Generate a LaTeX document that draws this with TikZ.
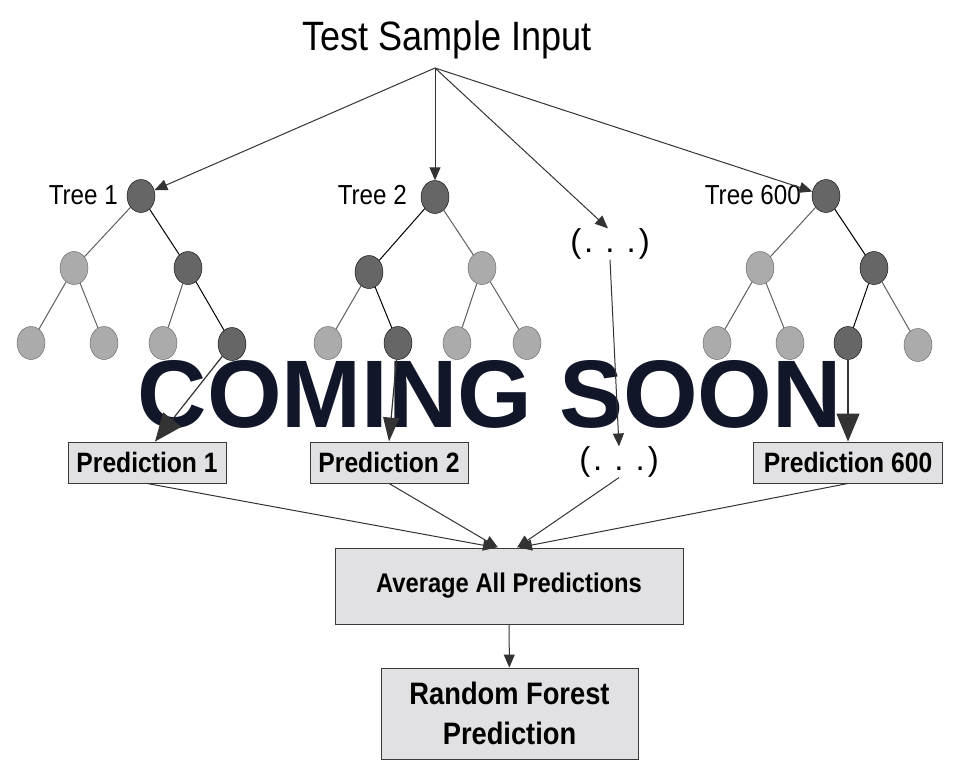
\documentclass[tikz,border=0pt]{standalone}
\usepackage{fontspec}
\setmainfont{Liberation Sans}
\newfontfamily\condfont[FakeStretch=0.88]{Liberation Sans}
\usetikzlibrary{shapes.geometric,arrows.meta}
\definecolor{darknode}{HTML}{666666}
\definecolor{lightnode}{HTML}{ABABAB}
\definecolor{lightedge}{HTML}{5E5E5E}
\definecolor{boxfill}{HTML}{E1E1E4}
\definecolor{boxedge}{HTML}{3A3A3A}
\definecolor{tipgray}{HTML}{333333}
\definecolor{wmark}{HTML}{121629}
\newcommand{\dotrow}{(\hspace{3pt}.\hspace{12pt}.\hspace{12pt}.\hspace{3pt})}
\begin{document}
\begin{tikzpicture}[x=1pt,y=-1pt,
  dark/.style={ellipse,draw=black,fill=darknode,minimum width=28pt,minimum height=33pt,inner sep=0pt},
  light/.style={ellipse,draw=lightedge,fill=lightnode,minimum width=28pt,minimum height=33pt,inner sep=0pt},
  dedge/.style={black,line width=1pt},
  ledge/.style={lightedge,line width=1pt},
  box/.style={draw=boxedge,fill=boxfill,line width=0.9pt,inner sep=0pt,align=center,
    font=\condfont\bfseries\fontsize{28}{40}\selectfont},
  lbl/.style={font=\condfont\fontsize{27.5}{30}\selectfont,inner sep=0pt},
  dots/.style={font=\fontsize{33}{35}\selectfont,inner sep=0pt},
  arr/.style={tipgray,line width=1pt,-{Triangle[length=13pt,width=11pt]}},
  bigarr/.style={tipgray,line width=1.2pt,-{Triangle[length=28pt,width=23pt]}}]
\useasboundingbox (0,0) rectangle (960,780);
%%% input and the three trees
\node[font=\condfont\fontsize{41}{44}\selectfont] (input) at (447,40) {Test Sample Input};
\coordinate (src) at (435,68);
% tree 1
\node[dark] (t1) at (141,196) {};
\node[light] (t1a) at (74,268) {};
\node[dark] (t1b) at (188,268) {};
\node[light] (t1aa) at (31,343) {};
\node[light] (t1ab) at (104,343) {};
\node[light] (t1ba) at (163,343) {};
\node[dark] (t1bb) at (232,344) {};
\node[lbl,anchor=east] at (118,195) {Tree 1};
\draw[ledge] (t1) -- (t1a);
\draw[dedge] (t1) -- (t1b);
\draw[ledge] (t1a) -- (t1aa);
\draw[ledge] (t1a) -- (t1ab);
\draw[ledge] (t1b) -- (t1ba);
\draw[dedge] (t1b) -- (t1bb);
% tree 2
\node[dark] (t2) at (435,197) {};
\node[dark] (t2a) at (369,272) {};
\node[light] (t2b) at (482,268) {};
\node[light] (t2aa) at (328,343) {};
\node[dark] (t2ab) at (398,343) {};
\node[light] (t2ba) at (457,343) {};
\node[light] (t2bb) at (527,343) {};
\node[lbl,anchor=east] at (407,195) {Tree 2};
\draw[dedge] (t2) -- (t2a);
\draw[ledge] (t2) -- (t2b);
\draw[ledge] (t2a) -- (t2aa);
\draw[dedge] (t2a) -- (t2ab);
\draw[ledge] (t2b) -- (t2ba);
\draw[ledge] (t2b) -- (t2bb);
% tree 600
\node[dark] (t3) at (826,196) {};
\node[light] (t3a) at (760,268) {};
\node[dark] (t3b) at (874,268) {};
\node[light] (t3aa) at (717,343) {};
\node[light] (t3ab) at (790,343) {};
\node[dark] (t3ba) at (848,343) {};
\node[light] (t3bb) at (918,345) {};
\node[lbl,anchor=east] at (801,195) {Tree 600};
\draw[ledge] (t3) -- (t3a);
\draw[dedge] (t3) -- (t3b);
\draw[ledge] (t3a) -- (t3aa);
\draw[ledge] (t3a) -- (t3ab);
\draw[dedge] (t3b) -- (t3ba);
\draw[ledge] (t3b) -- (t3bb);
% the dots
\node[dots] (dots1) at (610,244) {\dotrow};
\node[dots] (dots2) at (619,462) {\dotrow};
%%% overlay text
\node[font=\bfseries\fontsize{96}{100}\selectfont,text=wmark,inner sep=0pt] (soon) at (490,394) {COMING SOON};
%%% boxes
\node[box,minimum width=158pt,minimum height=41pt] (p1) at (147,462.5) {Prediction 1};
\node[box,minimum width=158pt,minimum height=41pt] (p2) at (389,462.5) {Prediction 2};
\node[box,minimum width=189pt,minimum height=41pt] (p3) at (848,462.5) {Prediction 600};
\node[box,font=\condfont\bfseries\fontsize{27}{40}\selectfont,minimum width=348pt,minimum height=76pt] (avg) at (509,586) {Average All Predictions};
\node[box,font=\condfont\bfseries\fontsize{31}{40}\selectfont,minimum width=257pt,minimum height=91pt] (rf) at (509.5,713.5) {Random Forest\\Prediction};
%%% arrows
\draw[arr] (src) -- (t1);
\draw[arr] (src) -- (t2);
\draw[arr] (src) -- ([xshift=-2pt]dots1.north);
\draw[arr] (src) -- (t3);
\draw[bigarr] (t1bb) -- ([xshift=8pt]p1.north);
\draw[bigarr,-{Triangle[length=24pt,width=16pt]}] (t2ab) -- (p2.north);
\draw[arr] (dots1.south) -- (dots2.north);
\draw[bigarr] (t3ba) -- (p3.north);
\draw[arr] (p1.south) -- ([xshift=-13pt]avg.north);
\draw[arr] (p2.south) -- ([xshift=-11pt]avg.north);
\draw[arr] (dots2.south) -- ([xshift=8pt]avg.north);
\draw[arr] (p3.south) -- ([xshift=10pt]avg.north);
\draw[arr] (avg) -- (rf);
\end{tikzpicture}
\end{document}
